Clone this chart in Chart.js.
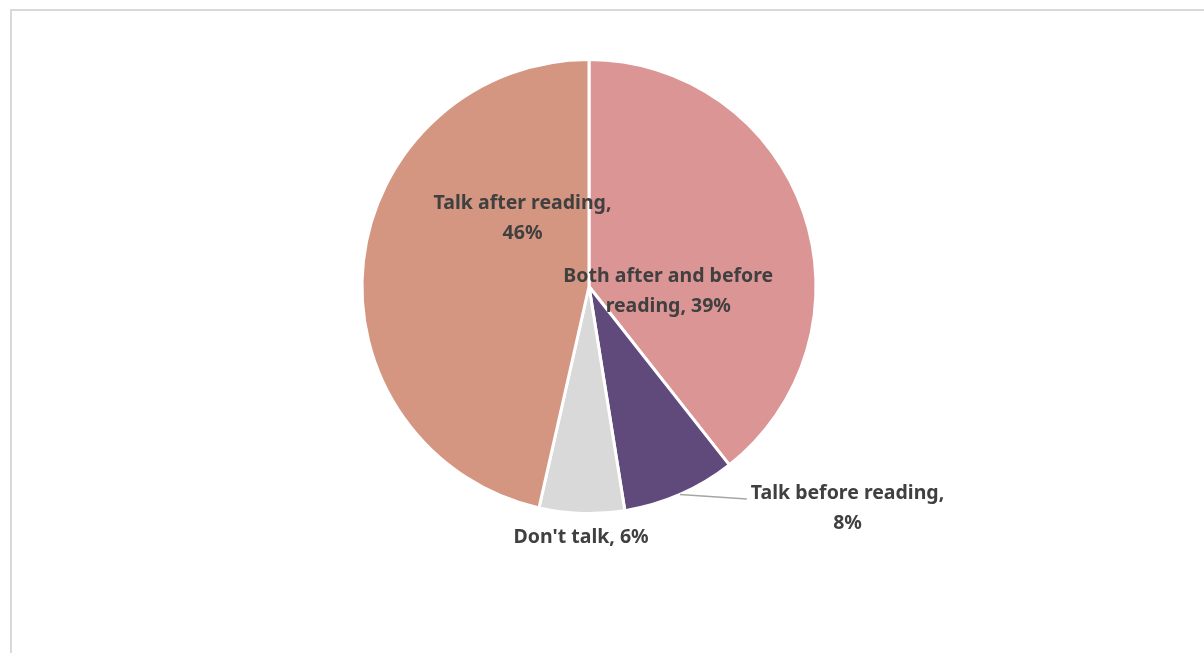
<!DOCTYPE html>
<html>
<head>
<meta charset="utf-8">
<title>Talking about reading</title>
<script src="https://cdn.jsdelivr.net/npm/chart.js@4.4.1/dist/chart.umd.min.js"></script>
<style>
  html, body { margin: 0; padding: 0; background: #fff; overflow: hidden; }
  #frame {
    position: absolute; left: 10px; top: 9px;
    width: 1300px; height: 800px;
    border: 2px solid #d9d9d9; box-sizing: border-box;
  }
  #chart { position: absolute; left: 0; top: 0; }
</style>
</head>
<body>
<div id="frame"></div>
<canvas id="chart" width="1204" height="653"></canvas>
<script>
const categories = ['Both after and before reading', 'Talk before reading', "Don't talk", 'Talk after reading'];
const shares = [39, 8, 6, 46];
const sliceColors = ['#DB9594', '#5F4A7B', '#D9D9D9', '#D49681'];

// label lines per slice, and where each block sits (distance as a fraction
// of the radius, angle in degrees clockwise from 12 o'clock)
const labelLines = [
    ['Both after and before', 'reading, ' + shares[0] + '%'],
    ['Talk before reading,', shares[1] + '%'],
    ["Don't talk, " + shares[2] + '%'],
    ['Talk after reading,', shares[3] + '%'],
];
const labelPlace = [
    { dist: 0.35, deg: 93.6 },
    { dist: 1.50, deg: 130.6, leader: true },
    { dist: 1.106, deg: 181.8 },
    { dist: 0.42, deg: 315.8 },
];

const pieLabels = {
    id: 'pieLabels',
    afterDatasetsDraw(chart) {
        const ctx = chart.ctx;
        const meta = chart.getDatasetMeta(0);
        ctx.save();
        ctx.font = 'bold 19.5px "Noto Sans", sans-serif';
        ctx.fillStyle = '#404040';
        ctx.textAlign = 'center';
        ctx.textBaseline = 'middle';
        const lineH = 30;
        meta.data.forEach((arc, i) => {
            const { x, y, outerRadius, startAngle, endAngle } = arc.getProps(['x', 'y', 'outerRadius', 'startAngle', 'endAngle'], true);
            const p = labelPlace[i];
            const a = (p.deg - 90) * Math.PI / 180;
            const cx = x + Math.cos(a) * outerRadius * p.dist;
            const cy = y + Math.sin(a) * outerRadius * p.dist;
            const lines = labelLines[i];
            const top = cy - (lines.length - 1) * lineH / 2;
            if (p.leader) {
                const mid = (startAngle + endAngle) / 2;
                const w = ctx.measureText(lines[0]).width;
                ctx.strokeStyle = '#a6a6a6';
                ctx.lineWidth = 1.5;
                ctx.beginPath();
                ctx.moveTo(x + Math.cos(mid) * outerRadius, y + Math.sin(mid) * outerRadius);
                ctx.lineTo(cx - w / 2 - 4, top + 6);
                ctx.stroke();
            }
            lines.forEach((t, k) => ctx.fillText(t, cx, top + k * lineH));
        });
        ctx.restore();
    }
};

new Chart(document.getElementById('chart'), {
    type: 'pie',
    data: {
        labels: categories,
        datasets: [{
            data: shares,
            backgroundColor: sliceColors,
            borderColor: '#ffffff',
            borderWidth: 3,
        }],
    },
    options: {
        responsive: false,
        animation: false,
        layout: { padding: { left: 0, right: 26, top: 58, bottom: 138 } },
        plugins: {
            legend: { display: false },
            tooltip: { enabled: false },
        },
    },
    plugins: [pieLabels],
});
</script>
</body>
</html>
